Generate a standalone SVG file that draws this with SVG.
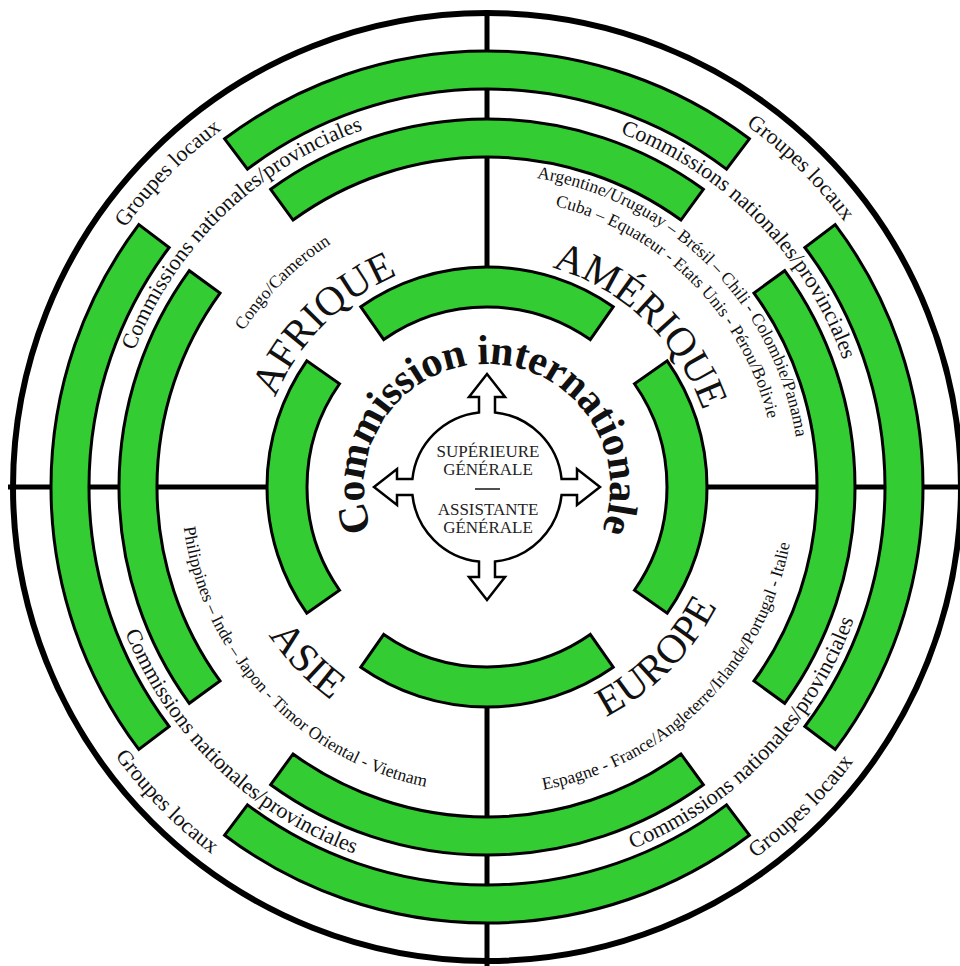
<svg xmlns="http://www.w3.org/2000/svg" xmlns:xlink="http://www.w3.org/1999/xlink" width="960" height="966" viewBox="0 0 960 966">
<style>
.band{fill:#33cc33;stroke:#000;stroke-width:3;stroke-linejoin:miter}
.axis{stroke:#000;stroke-width:5;fill:none}
.t{font-family:"Liberation Serif","Times New Roman",serif;fill:#111}
.ring{font-size:22px}
.region{font-size:41px}
.country{font-size:17.5px}
.ci{font-size:42px;font-weight:bold;letter-spacing:-0.4px}
.ctr{font-size:17px;fill:#222}
</style>
<defs>
<path id="p-ci" d="M380.48 548.5 A123 123 0 1 1 593.52 548.5"/>
<path id="p-afrique" d="M310.81 634.84 A230 230 0 0 1 634.84 310.81"/>
<path id="p-amerique" d="M335.26 315.49 A229 229 0 0 1 666.22 629.55"/>
<path id="p-asie" d="M287.76 313.80 A264 264 0 0 0 653.14 692.17"/>
<path id="p-europe" d="M320.52 685.40 A259 259 0 0 0 685.40 320.52"/>
<path id="p-arg" d="M285.81 247.23 A313 313 0 0 1 726.77 688.19"/>
<path id="p-cuba" d="M301.23 265.61 A289 289 0 0 1 708.39 672.77"/>
<path id="p-congo" d="M265.61 672.77 A289 289 0 0 1 672.77 265.61"/>
<path id="p-phil" d="M259.60 282.25 A306 306 0 0 0 675.39 728.13"/>
<path id="p-esp" d="M289.02 722.94 A308 308 0 0 0 722.94 289.02"/>
<path id="p-cn-ul" d="M193.24 724.88 A378 378 0 0 1 734.99 201.72"/>
<path id="p-cn-ur" d="M246.56 195.33 A378 378 0 0 1 774.44 732.49"/>
<path id="p-cn-ll" d="M183.91 241.57 A390 390 0 0 0 742.86 781.34"/>
<path id="p-cn-lr" d="M241.57 790.09 A390 390 0 0 0 781.34 231.14"/>
<path id="p-gl-ul" d="M148.62 776.01 A445 445 0 0 1 770.06 143.63"/>
<path id="p-gl-ur" d="M197.99 148.62 A445 445 0 0 1 830.37 770.06"/>
<path id="p-gl-ll" d="M137.97 188.90 A459 459 0 0 0 778.96 841.17"/>
<path id="p-gl-lr" d="M189.55 835.27 A458 458 0 0 0 840.40 195.68"/>
</defs>
<rect x="0" y="0" width="960" height="966" fill="#fff"/>

<g id="connectors">
<line class="axis" x1="487" y1="10" x2="487" y2="272"/>
<line class="axis" x1="487" y1="702" x2="487" y2="966"/>
<line class="axis" x1="8" y1="487" x2="272" y2="487"/>
<line class="axis" x1="702" y1="487" x2="966" y2="487"/>
</g>

<g id="outer-circle">
<circle cx="487" cy="487" r="474" fill="none" stroke="#000" stroke-width="6"/>
</g>

<g id="ring-groupes-locaux">
<path class="band" d="M224.61 138.79 A436 436 0 0 1 749.39 138.79 L726.52 169.14 A398 398 0 0 0 247.48 169.14 Z"/>
<path class="band" d="M835.21 224.61 A436 436 0 0 1 835.21 749.39 L804.86 726.52 A398 398 0 0 0 804.86 247.48 Z"/>
<path class="band" d="M749.39 835.21 A436 436 0 0 1 224.61 835.21 L247.48 804.86 A398 398 0 0 0 726.52 804.86 Z"/>
<path class="band" d="M138.79 749.39 A436 436 0 0 1 138.79 224.61 L169.14 247.48 A398 398 0 0 0 169.14 726.52 Z"/>
</g>

<g id="ring-commissions-nationales">
<path class="band" d="M270.69 189.28 A368 368 0 0 1 703.31 189.28 L680.97 220.02 A330 330 0 0 0 293.03 220.02 Z"/>
<path class="band" d="M784.72 270.69 A368 368 0 0 1 784.72 703.31 L753.98 680.97 A330 330 0 0 0 753.98 293.03 Z"/>
<path class="band" d="M703.31 784.72 A368 368 0 0 1 270.69 784.72 L293.03 753.98 A330 330 0 0 0 680.97 753.98 Z"/>
<path class="band" d="M189.28 703.31 A368 368 0 0 1 189.28 270.69 L220.02 293.03 A330 330 0 0 0 220.02 680.97 Z"/>
</g>

<g id="ring-continents">
<path class="band" d="M360.81 306.79 A220 220 0 0 1 613.19 306.79 L590.24 339.55 A180 180 0 0 0 383.76 339.55 Z"/>
<path class="band" d="M667.21 360.81 A220 220 0 0 1 667.21 613.19 L634.45 590.24 A180 180 0 0 0 634.45 383.76 Z"/>
<path class="band" d="M613.19 667.21 A220 220 0 0 1 360.81 667.21 L383.76 634.45 A180 180 0 0 0 590.24 634.45 Z"/>
<path class="band" d="M306.79 613.19 A220 220 0 0 1 306.79 360.81 L339.55 383.76 A180 180 0 0 0 339.55 590.24 Z"/>
</g>

<g id="labels-groupes-locaux" class="t ring">
<text><textPath href="#p-gl-ul" xlink:href="#p-gl-ul" startOffset="50%" text-anchor="middle">Groupes locaux</textPath></text>
<text><textPath href="#p-gl-ur" xlink:href="#p-gl-ur" startOffset="50%" text-anchor="middle">Groupes locaux</textPath></text>
<text><textPath href="#p-gl-ll" xlink:href="#p-gl-ll" startOffset="50%" text-anchor="middle">Groupes locaux</textPath></text>
<text><textPath href="#p-gl-lr" xlink:href="#p-gl-lr" startOffset="50%" text-anchor="middle">Groupes locaux</textPath></text>
</g>

<g id="labels-commissions-nationales" class="t ring">
<text><textPath href="#p-cn-ul" xlink:href="#p-cn-ul" startOffset="50%" text-anchor="middle">Commissions nationales/provinciales</textPath></text>
<text><textPath href="#p-cn-ur" xlink:href="#p-cn-ur" startOffset="50%" text-anchor="middle">Commissions nationales/provinciales</textPath></text>
<text><textPath href="#p-cn-ll" xlink:href="#p-cn-ll" startOffset="50%" text-anchor="middle">Commissions nationales/provinciales</textPath></text>
<text><textPath href="#p-cn-lr" xlink:href="#p-cn-lr" startOffset="50%" text-anchor="middle">Commissions nationales/provinciales</textPath></text>
</g>

<g id="region-afrique" class="t">
<text class="region"><textPath href="#p-afrique" xlink:href="#p-afrique" startOffset="50%" text-anchor="middle">AFRIQUE</textPath></text>
<text class="country"><textPath href="#p-congo" xlink:href="#p-congo" startOffset="50%" text-anchor="middle">Congo/Cameroun</textPath></text>
</g>

<g id="region-amerique" class="t">
<text class="region"><textPath href="#p-amerique" xlink:href="#p-amerique" startOffset="50%" text-anchor="middle">AMÉRIQUE</textPath></text>
<text class="country"><textPath href="#p-arg" xlink:href="#p-arg" startOffset="50%" text-anchor="middle">Argentine/Uruguay – Brésil – Chili - Colombie/Panama</textPath></text>
<text class="country"><textPath href="#p-cuba" xlink:href="#p-cuba" startOffset="50%" text-anchor="middle">Cuba – Equateur - Etats Unis - Pérou/Bolivie</textPath></text>
</g>

<g id="region-asie" class="t">
<text class="region"><textPath href="#p-asie" xlink:href="#p-asie" startOffset="50%" text-anchor="middle">ASIE</textPath></text>
<text class="country"><textPath href="#p-phil" xlink:href="#p-phil" startOffset="50%" text-anchor="middle">Philippines – Inde – Japon - Timor Oriental - Vietnam</textPath></text>
</g>

<g id="region-europe" class="t">
<text class="region"><textPath href="#p-europe" xlink:href="#p-europe" startOffset="50%" text-anchor="middle">EUROPE</textPath></text>
<text class="country"><textPath href="#p-esp" xlink:href="#p-esp" startOffset="50%" text-anchor="middle">Espagne - France/Angleterre/Irlande/Portugal - Italie</textPath></text>
</g>

<g id="commission-internationale" class="t">
<text class="ci"><textPath href="#p-ci" xlink:href="#p-ci" startOffset="50%" text-anchor="middle">Commission internationale</textPath></text>
</g>

<g id="node-center">
<path d="M495 412.43 L495 397 L505 397 L487 374 L469 397 L479 397 L479 412.43 A75 75 0 0 0 412.43 479 L397 479 L397 469 L374 487 L397 505 L397 495 L412.43 495 A75 75 0 0 0 479 561.57 L479 577 L469 577 L487 600 L505 577 L495 577 L495 561.57 A75 75 0 0 0 561.57 495 L577 495 L577 505 L600 487 L577 469 L577 479 L561.57 479 A75 75 0 0 0 495 412.43 Z" fill="#fff" stroke="#000" stroke-width="2.5" stroke-linejoin="miter"/>
<g class="t ctr" text-anchor="middle">
<text x="488" y="457">SUPÉRIEURE</text>
<text x="488" y="475">GÉNÉRALE</text>
<text x="488" y="515">ASSISTANTE</text>
<text x="488" y="533">GÉNÉRALE</text>
</g>
<line x1="475" y1="489" x2="500" y2="489" stroke="#222" stroke-width="1.6"/>
</g>
</svg>
